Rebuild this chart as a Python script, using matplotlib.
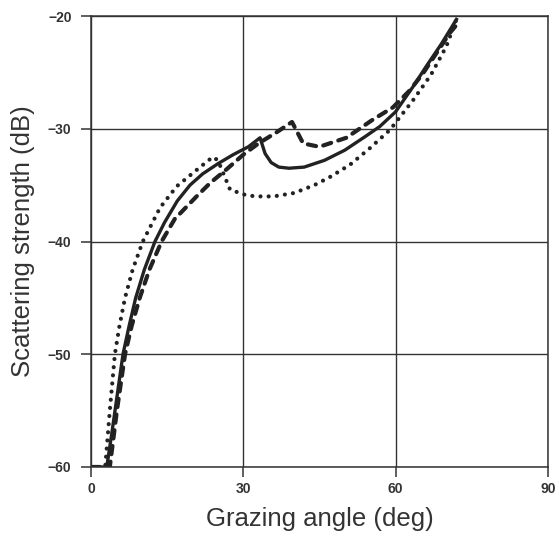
import matplotlib.pyplot as plt

plt.rcParams['font.family'] = ['Liberation Sans', 'DejaVu Sans']

# solid curve
x_solid = [0, 3.1, 4.1, 5.2, 6.3, 7.5, 8.8, 10.5, 12.6, 14.5, 17, 19.5, 22, 25, 28, 31, 33.3,
           34.3, 35.5, 37, 39, 42, 46, 50, 54, 56.9, 60, 63.4, 66, 69, 72]
y_solid = [-60, -60, -57, -53.5, -50, -47.5, -45, -42.5, -40, -38.3, -36.4, -35.0, -34.0, -33.1, -32.3, -31.6, -30.8,
           -32.2, -33.0, -33.4, -33.5, -33.4, -32.8, -31.9, -30.7, -29.8, -28.5, -26.3, -24.5, -22.5, -20.3]

# dotted curve
x_dot = [0, 2.8, 3.7, 4.7, 5.6, 6.7, 8.2, 10.2, 13.6, 16.9, 21.5, 24, 25,
         27.4, 30.6, 32.6, 36, 40, 44, 47, 51, 55, 58.9, 63.4, 67, 70, 72]
y_dot = [-60, -60, -55, -50, -47.5, -45, -42.5, -40, -37, -35.1, -33.4, -32.5, -32.8,
         -35.4, -35.9, -36.0, -36.0, -35.7, -35.0, -34.3, -33.2, -31.7, -30.1, -27.5, -25.2, -22.7, -20.3]

# dashed curve
x_dash = [0, 3.7, 5.1, 6.7, 8.0, 9.6, 11.5, 13.9, 16.5, 20.8, 23.5, 26.7, 30, 33,
          36.6, 39.6, 41.8, 45, 50.3, 55.5, 59.5, 62.8, 65.4, 70.7, 72]
y_dash = [-60, -60, -55, -50, -47.5, -45, -42.5, -40, -38, -36, -34.8, -33.6, -32.3, -31.3,
          -30.3, -29.4, -31.3, -31.6, -30.8, -29.2, -28.1, -26.6, -25.1, -21.5, -20.8]

fig = plt.figure(figsize=(5.55, 5.34), dpi=100)
ax = fig.add_axes([0.164, 0.1255, 0.823, 0.8445])

ax.plot(x_solid, y_solid, color='#222222', lw=2.4, solid_joinstyle='round')
ax.plot(x_dot, y_dot, color='#222222', lw=3.0, linestyle=(0, (0.01, 1.95)),
        dash_capstyle='round')
ax.plot(x_dash, y_dash, color='#222222', lw=3.0, linestyle=(0, (2.0, 1.8)),
        dash_capstyle='round')

ax.set_xlim(0, 90)
ax.set_ylim(-60, -20)
ax.set_xticks([0, 30, 60, 90])
ax.set_yticks([-60, -50, -40, -30, -20])
ax.grid(True, color='#333333', lw=1.0)
for s in ax.spines.values():
    s.set_linewidth(1.1)
    s.set_color('#333333')
ax.tick_params(direction='out', length=7, width=1.1, color='#333333',
               labelsize=10, labelcolor='#333333')
ax.tick_params(axis='y', pad=7)
ax.tick_params(axis='x', pad=4)
for lab in ax.get_xticklabels() + ax.get_yticklabels():
    lab.set_fontweight('bold')

ax.set_xlabel('Grazing angle (deg)', fontsize=18.5, color='#333333', labelpad=8)
ax.set_ylabel('Scattering strength (dB)', fontsize=18.5, color='#333333', labelpad=9)

fig.savefig('out.png')
